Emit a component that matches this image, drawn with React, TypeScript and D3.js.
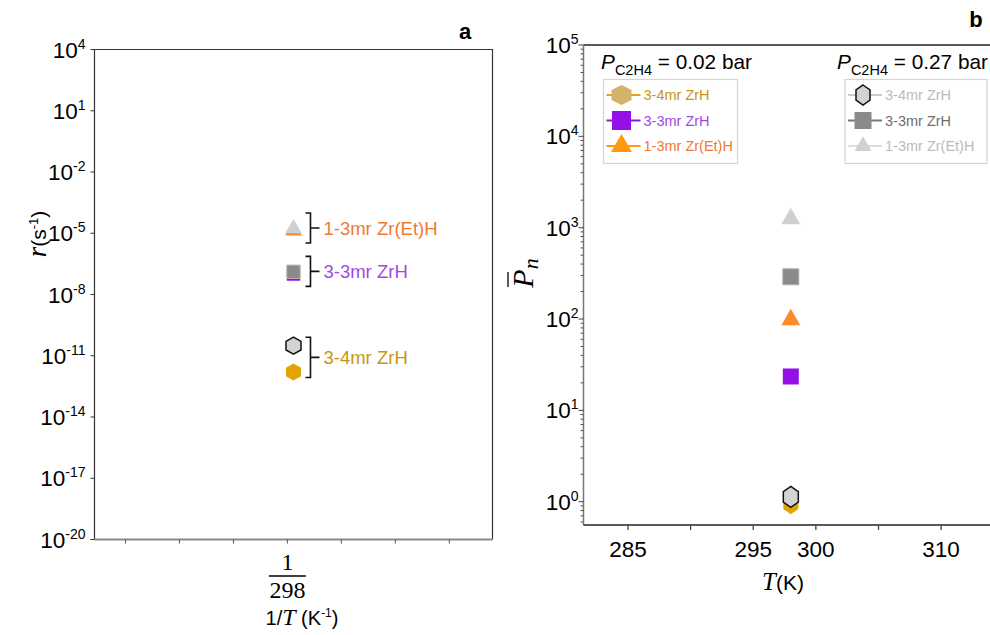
import React from "react";
import * as d3 from "d3";

// ---- data ----
const species = ["3-4mr ZrH", "3-3mr ZrH", "1-3mr Zr(Et)H"];
const shapes = ["hex", "square", "triangle"];
// panel a: rate r (s^-1) at 1/T
const invTPoint = 1 / 297.9;
const rateLow = [1.6e-12, 1.0e-7, 1.35e-5]; // P = 0.02 bar (coloured)
const rateHigh = [3.1e-11, 1.3e-7, 1.7e-5]; // P = 0.27 bar (grey)
const rateExponents = [4, 1, -2, -5, -8, -11, -14, -17, -20];
// panel b: Pn at T
const tempPoint = 298;
const pnLow = [0.95, 23.5, 98];
const pnHigh = [1.13, 290, 1250];
const pnExponents = [0, 1, 2, 3, 4, 5];
const tempTicks = [285, 290, 295, 300, 305, 310];
const tempLabels = [285, 295, 300, 310];

const lowColors = ["#e3a300", "#9410e6", "#ff8a2c"];
const lowTextColors = ["#c8960c", "#a347e6", "#f07a30"];
const lowLegendFill = ["#d4b26c", "#9410e6", "#ff9a10"];
const lowLegendLine = ["#e8a020", "#9410e6", "#ff9a10"];
const highFill = ["#d3d3d3", "#8a8a8a", "#d0d0d0"];
const highLine = ["#cccccc", "#777777", "#dddddd"];
const highText = ["#bbbbbb", "#6e6e6e", "#bbbbbb"];

const SANS = "'Liberation Sans', Arial, sans-serif";
const SERIF = "'Liberation Serif', 'DejaVu Serif', serif";

const hexPath = (cx: number, cy: number, w: number, h: number) =>
  (d3.line()([
    [cx, cy - h / 2],
    [cx + w / 2, cy - h / 4],
    [cx + w / 2, cy + h / 4],
    [cx, cy + h / 2],
    [cx - w / 2, cy + h / 4],
    [cx - w / 2, cy - h / 4],
  ]) as string) + "Z";

const symbolPath = (shape: string, size: number) => {
  const sym = shape === "square" ? d3.symbolSquare : d3.symbolTriangle;
  const area = shape === "square" ? size * size : (Math.sqrt(3) / 4) * size * size;
  return d3.symbol(sym, area)() as string;
};

const Marker = ({ shape, x, y, size, fill, stroke, sw = 1, hexW, hexH }: any) => {
  if (shape === "hex")
    return <path d={hexPath(x, y, hexW, hexH)} fill={fill} stroke={stroke} strokeWidth={sw} />;
  return (
    <path
      d={symbolPath(shape, size)}
      transform={`translate(${x},${y})`}
      fill={fill}
      stroke={stroke}
      strokeWidth={sw}
    />
  );
};

const App = () => {
  // ---------- panel a ----------
  const aL = 94.5, aR = 492.5, aT = 49.5, aB = 539.5;
  const step = 1e-5;
  const xA = d3.scaleLinear().domain([1 / 298 - 3.574 * step, 1 / 298 + 3.8 * step]).range([aL, aR]);
  const yA = d3.scaleLog().domain([1e-20, 1e4]).range([aB, aT]);
  const xATicks = d3.range(-3, 4).map((k) => 1 / 298 + k * step);

  // ---------- panel b ----------
  const bL = 583.5, bR = 1000, bT = 45, bB = 525;
  const xB = d3.scaleLinear().domain([281.45, 314.7]).range([bL, bR]);
  const yB = d3.scaleLog().domain([0.556, 1e5]).range([bB, bT]);
  const minorB: number[] = [];
  [-1, 0, 1, 2, 3, 4].forEach((e) =>
    d3.range(2, 10).forEach((m) => {
      const v = m * Math.pow(10, e);
      if (v >= 0.556 && v < 1e5) minorB.push(v);
    })
  );

  const mxA = xA(invTPoint);
  const mxB = xB(tempPoint);

  // brackets in panel a
  const brackets = species.map((name, i) => {
    const y1 = yA(rateLow[i]), y2 = yA(rateHigh[i]);
    const mid = (y1 + y2) / 2 - 1.5;
    const half = Math.max(15, Math.abs(y1 - y2) / 2 + 7);
    return { name, i, mid, top: mid - half, bot: mid + half };
  });
  const bx = mxA + 17;
  const fx = xA(1 / 298);

  return (
    <svg width={990} height={635} style={{ position: "absolute", left: 0, top: 0 }} fontFamily={SANS}>
      <rect width={990} height={635} fill="#fff" />
      {/* ===== panel a ===== */}
      <text x={465} y={39} fontSize={22} fontWeight="bold" textAnchor="middle">a</text>
      <path d={`M${aL},${aB}V${aT}H${aR}V${aB}`} fill="none" stroke="#333" strokeWidth={1.2} />
      <line x1={aL} x2={aR} y1={aB} y2={aB} stroke="#8a8a8a" strokeWidth={2} />
      {rateExponents.map((e) => (
        <g key={e}>
          <line x1={aL - 4} x2={aL} y1={yA(Math.pow(10, e))} y2={yA(Math.pow(10, e))} stroke="#333" />
          <text x={aL - 9} y={yA(Math.pow(10, e))} dy="0.36em" fontSize={22.5} textAnchor="end">
            10<tspan dy={-9} fontSize={14}>{e}</tspan>
          </text>
        </g>
      ))}
      {xATicks.map((t, k) => (
        <line key={k} x1={xA(t)} x2={xA(t)} y1={aB} y2={aB + 4} stroke="#555" />
      ))}
      {/* fraction 1/298 */}
      <text x={fx} y={570} fontSize={24} textAnchor="middle" fontFamily={SERIF}>1</text>
      <line x1={fx - 18.5} x2={fx + 18.5} y1={576} y2={576} stroke="#000" strokeWidth={1.3} />
      <text x={fx} y={598} fontSize={24} textAnchor="middle" fontFamily={SERIF}>298</text>
      <text x={302} y={625} fontSize={20} textAnchor="middle">
        1/<tspan fontFamily={SERIF} fontStyle="italic" fontSize={24}>T</tspan> (K<tspan dy={-8} fontSize={12}>-1</tspan><tspan dy={8}>)</tspan>
      </text>
      <text transform="translate(46,234) rotate(-90)" fontSize={21} textAnchor="middle">
        <tspan fontFamily={SERIF} fontStyle="italic" fontSize={27}>r</tspan>(s<tspan dy={-8} fontSize={13}>-1</tspan><tspan dy={8}>)</tspan>
      </text>
      {/* markers: coloured behind, grey on top */}
      {species.map((s, i) => (
        <Marker key={"al" + i} shape={shapes[i]} x={mxA} y={yA(rateLow[i])}
          size={shapes[i] === "square" ? 13.3 : 16.7} fill={lowColors[i]} stroke="none" hexW={15} hexH={17} />
      ))}
      {species.map((s, i) => (
        <Marker key={"ah" + i} shape={shapes[i]} x={mxA} y={yA(rateHigh[i])}
          size={shapes[i] === "square" ? 13.3 : 16.7} fill={highFill[i]}
          stroke={i === 0 ? "#111" : i === 1 ? "#b5b5b5" : "none"} sw={i === 0 ? 1.5 : 1} hexW={15} hexH={17} />
      ))}
      {brackets.map((b) => (
        <g key={b.name}>
          <path
            d={`M${bx - 5},${b.top}H${bx}V${b.bot}H${bx - 5}M${bx},${b.mid}H${bx + 9}`}
            fill="none" stroke="#111" strokeWidth={1.6}
          />
          <text x={bx + 13} y={b.mid} dy="0.36em" fontSize={18.5} fill={lowTextColors[b.i]}>{b.name}</text>
        </g>
      ))}

      {/* ===== panel b ===== */}
      <text x={976} y={27} fontSize={22} fontWeight="bold" textAnchor="middle">b</text>
      <line x1={bL} x2={bR} y1={bT} y2={bT} stroke="#222" strokeWidth={1.5} />
      <line x1={bL} x2={bL} y1={bT} y2={bB} stroke="#777" strokeWidth={1.5} />
      <line x1={bL} x2={bR} y1={bB} y2={bB} stroke="#222" strokeWidth={1.5} />
      {minorB.map((v, k) => (
        <line key={k} x1={bL - 3} x2={bL} y1={yB(v)} y2={yB(v)} stroke="#555" />
      ))}
      {pnExponents.map((e) => (
        <g key={e}>
          <line x1={bL - 5} x2={bL} y1={yB(Math.pow(10, e))} y2={yB(Math.pow(10, e))} stroke="#444" />
          <text x={bL - 5} y={yB(Math.pow(10, e))} dy="0.36em" fontSize={22.5} textAnchor="end">
            10<tspan dy={-9} fontSize={14}>{e}</tspan>
          </text>
        </g>
      ))}
      {tempTicks.map((t) => (
        <line key={t} x1={xB(t)} x2={xB(t)} y1={bB} y2={bB + 5} stroke="#444" strokeWidth={1.3} />
      ))}
      {tempLabels.map((t) => (
        <text key={t} x={xB(t)} y={557} fontSize={22.5} textAnchor="middle">{t}</text>
      ))}
      <text x={783} y={590} fontSize={21} textAnchor="middle">
        <tspan fontFamily={SERIF} fontStyle="italic" fontSize={25}>T</tspan>(K)
      </text>
      <g transform="translate(533,273) rotate(-90)">
        <text fontFamily={SERIF} fontStyle="italic" fontSize={30} textAnchor="middle">
          P<tspan dy={5} fontSize={22}>n</tspan>
        </text>
        <line x1={-14} x2={1} y1={-25} y2={-25} stroke="#000" strokeWidth={1.3} />
      </g>
      {species.map((s, i) => (
        <Marker key={"bl" + i} shape={shapes[i]} x={mxB} y={yB(pnLow[i])}
          size={shapes[i] === "square" ? 16 : 19} fill={lowColors[i]} stroke="none" hexW={15} hexH={21} />
      ))}
      {species.map((s, i) => (
        <Marker key={"bh" + i} shape={shapes[i]} x={mxB} y={yB(pnHigh[i])}
          size={shapes[i] === "square" ? 16 : 19} fill={highFill[i]}
          stroke={i === 0 ? "#111" : i === 1 ? "#b0b0b0" : "none"} sw={i === 0 ? 1.5 : 1} hexW={15} hexH={21} />
      ))}

      {/* legends */}
      {[
        { x: 601, label: "0.02 bar", bx: 603.5, bw: 134, fills: lowLegendFill, lines: lowLegendLine, texts: lowTextColors, strokes: ["none", "none", "none"], hw: 20 },
        { x: 837, label: "0.27 bar", bx: 845, bw: 142, fills: highFill, lines: highLine, texts: highText, strokes: ["#111", "none", "none"], hw: 14 },
      ].map((lg, j) => (
        <g key={j}>
          <text x={lg.x} y={69} fontSize={20.8}>
            <tspan fontStyle="italic">P</tspan>
            <tspan dy={6} fontSize={14.5}>C2H4</tspan>
            <tspan dy={-6}> = {lg.label}</tspan>
          </text>
          <rect x={lg.bx} y={79.5} width={lg.bw} height={84} fill="#fff" stroke="#d4d4d4" strokeWidth={1.2} />
          {species.map((s, i) => {
            const cy = 95 + i * 25.5;
            const cx = lg.bx + 18;
            return (
              <g key={i}>
                <line x1={lg.bx + 3} x2={lg.bx + 37} y1={cy} y2={cy} stroke={lg.lines[i]} strokeWidth={2} />
                <Marker shape={shapes[i]} x={cx} y={cy} size={shapes[i] === "square" ? (j ? 17 : 19) : (j ? 17 : 21)}
                  fill={lg.fills[i]} stroke={lg.strokes[i]} sw={1.5} hexW={lg.hw} hexH={20} />
                <text x={lg.bx + 40} y={cy} dy="0.36em" fontSize={14.5} fill={lg.texts[i]}>{s}</text>
              </g>
            );
          })}
        </g>
      ))}
    </svg>
  );
};

export default App;
